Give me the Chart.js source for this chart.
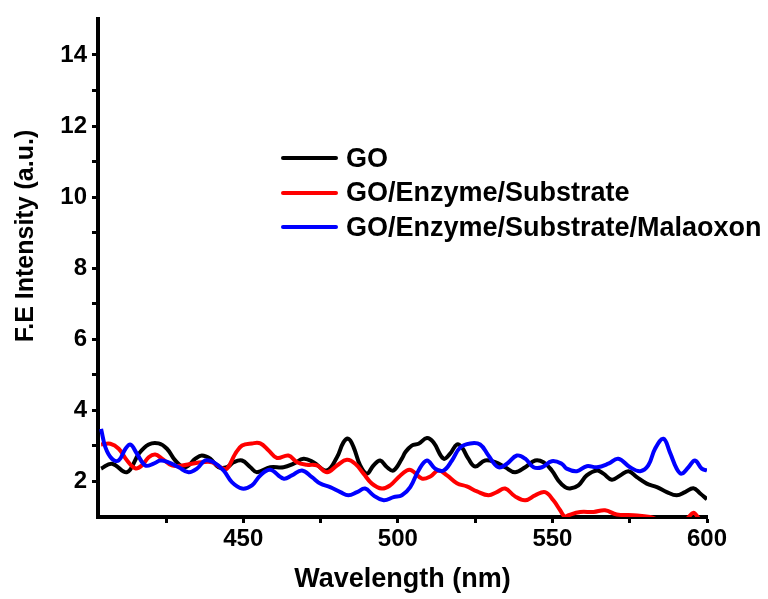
<!DOCTYPE html>
<html lang="en">
<head>
  <meta charset="UTF-8"/>
  <title>F.E Intensity vs Wavelength</title>
  <script src="https://cdn.jsdelivr.net/npm/chart.js"></script>
  <style>
    body { margin: 0; background: #fff; font-family: "Liberation Sans", Arial, sans-serif; }
    .wrap { position: relative; width: 768px; height: 599px; }
    .legend { position: absolute; left: 281px; top: 141px; }
    .legend .row { display: flex; align-items: center; height: 34.5px; }
    .legend .swatch { width: 57px; height: 4px; border-radius: 2px; margin-right: 8px; }
    .legend .txt { font-weight: bold; font-size: 27px; color: #000; white-space: nowrap; }
  </style>
</head>
<body>
  <div class="wrap">
    <canvas id="chart" width="768" height="599"></canvas>
    <div class="legend" id="legend"></div>
  </div>

  <script>
    // values
    const seriesNames = ['GO', 'GO/Enzyme/Substrate', 'GO/Enzyme/Substrate/Malaoxon'];
    const seriesColors = ['#000000', '#ff0000', '#0000ff'];

    const goX = [404, 407.5, 412.4, 416.2, 419.4, 422.6, 425.3, 428, 431.2, 434.5, 436.6, 439.3, 442, 444.7, 446.9, 449.6,
      452.3, 454.4, 458.7, 463, 466.3, 469.5, 472.7, 477, 480.3, 482.4, 484, 485.7, 487.8, 490, 492.1, 494.3, 496.5, 498.6,
      501.3, 502.4, 504.5, 506.7, 509.4, 511.5, 514.8, 516.9, 519.1, 520.7, 522.8, 525, 528.2, 531.5, 534.7, 537.9, 541.2,
      544.4, 547.1, 549.8, 551.9, 554.1, 555.7, 558.4, 561.1, 564.4, 566.5, 569.2, 571.9, 574.6, 577.3, 580.5, 583.8, 587,
      590.2, 592.9, 595.6, 597.8, 600];
    const goY = [2.36, 2.5, 2.26, 2.78, 3.04, 3.07, 2.92, 2.59, 2.4, 2.64, 2.73, 2.64, 2.4, 2.4, 2.54, 2.59,
      2.4, 2.26, 2.4, 2.4, 2.5, 2.64, 2.54, 2.31, 2.68, 3.1, 3.2, 2.96, 2.45, 2.22, 2.45, 2.59, 2.4, 2.31,
      2.64, 2.82, 3.01, 3.06, 3.22, 3.1, 2.64, 2.78, 3.04, 2.96, 2.64, 2.42, 2.59, 2.54, 2.4, 2.26, 2.4,
      2.59, 2.54, 2.31, 2.03, 1.84, 1.8, 1.89, 2.17, 2.31, 2.22, 2.05, 2.17, 2.29, 2.12, 1.94, 1.84, 1.7,
      1.61, 1.7, 1.81, 1.66, 1.5];

    const enzX = [404, 407, 409.7, 412.4, 415.1, 417.2, 419.4, 421.5, 423.7, 426.9, 430.2, 433.4, 436.6, 439.9, 442.6, 444.7,
      447.4, 449.6, 452.8, 455.5, 458.2, 460.9, 464.6, 467.4, 470.6, 473.8, 477.1, 480.3, 483.5, 486.2, 488.9, 491.6, 494.8,
      497.5, 500.2, 502.9, 504.5, 507.8, 510.5, 513.1, 515.9, 519.1, 522.3, 525.6, 529.3, 532, 534.7, 537.9, 541.2, 544.4,
      547.6, 550.3, 552.5, 554.1, 555.2, 559, 563.3, 567, 570.8, 576.2, 581.6, 585, 590, 593.5, 595.6, 597.5, 600];
    const enzY = [3.04, 3.06, 2.92, 2.59, 2.37, 2.45, 2.68, 2.76, 2.64, 2.45, 2.45, 2.5, 2.54, 2.54, 2.4, 2.36,
      2.78, 3.01, 3.07, 3.07, 2.87, 2.66, 2.73, 2.54, 2.47, 2.45, 2.26, 2.45, 2.61, 2.5, 2.22, 1.94, 1.8,
      1.89, 2.12, 2.31, 2.31, 2.08, 2.14, 2.31, 2.17, 1.95, 1.86, 1.72, 1.61, 1.7, 1.8, 1.58, 1.47, 1.61,
      1.7, 1.47, 1.19, 1.0, 1.05, 1.14, 1.14, 1.19, 1.07, 1.05, 1.0, 0.9, 0.85, 0.95, 1.12, 0.95, 0.8];

    const malX = [404, 405.4, 407.5, 409.7, 411.9, 413.5, 415.6, 418.3, 421, 423.2, 425.8, 429.1, 432.3, 435, 437.7, 440.4,
      443.6, 446.3, 449.6, 452.8, 455.5, 458.7, 463, 465.7, 469, 472.2, 474.9, 478.1, 481.4, 484, 486.8, 489.4, 492.1,
      495.4, 498.6, 501.3, 504, 506.7, 509.4, 512.1, 514.8, 517.5, 520.2, 523.4, 526.6, 529.3, 532.5, 535.3, 538.5, 541.2,
      543.9, 546.6, 549.8, 553, 554.6, 557.9, 561.1, 564.4, 568.1, 571.3, 575.1, 578.4, 581, 583.2, 585.9, 588, 590.2,
      591.8, 594, 596.1, 598.3, 600];
    const malY = [3.48, 2.96, 2.64, 2.59, 2.92, 3.04, 2.78, 2.45, 2.5, 2.59, 2.54, 2.4, 2.26, 2.36, 2.59, 2.54,
      2.31, 1.98, 1.8, 1.89, 2.17, 2.33, 2.08, 2.17, 2.31, 2.12, 1.94, 1.84, 1.7, 1.61, 1.7, 1.8, 1.61,
      1.47, 1.56, 1.61, 1.84, 2.31, 2.59, 2.36, 2.31, 2.59, 2.96, 3.07, 3.04, 2.73, 2.4, 2.5, 2.73, 2.64,
      2.4, 2.4, 2.57, 2.5, 2.36, 2.29, 2.43, 2.4, 2.5, 2.64, 2.4, 2.29, 2.45, 2.92, 3.2, 2.82, 2.36,
      2.22, 2.4, 2.59, 2.36, 2.31];

    const xTicks = [425, 450, 475, 500, 525, 550, 575, 600];
    const yTicks = [2, 3, 4, 5, 6, 7, 8, 9, 10, 11, 12, 13, 14];
    const yTitle = 'F.E Intensity (a.u.)';

    const FONT = '"Liberation Sans", Arial, sans-serif';
    const pairs = (xs, ys) => xs.map((x, i) => ({ x: x, y: ys[i] }));
    const allX = [goX, enzX, malX];
    const allY = [goY, enzY, malY];

    const datasets = seriesNames.map((name, i) => ({
      label: name,
      data: pairs(allX[i], allY[i]),
      borderColor: seriesColors[i],
      borderWidth: 4,
      pointRadius: 0,
      tension: 0.4,
      fill: false,
      order: 2 - i
    }));

    // html legend
    const legend = document.getElementById('legend');
    seriesNames.forEach((name, i) => {
      const row = document.createElement('div');
      row.className = 'row';
      row.innerHTML = '<span class="swatch" style="background:' + seriesColors[i] + '"></span><span class="txt">' + name + '</span>';
      legend.appendChild(row);
    });

    // y title sits a bit above the middle of the axis in the original, so draw it by hand
    const yTitlePlugin = {
      id: 'yTitle',
      afterDraw(chart) {
        const ctx = chart.ctx;
        ctx.save();
        ctx.translate(26, 236);
        ctx.rotate(-Math.PI / 2);
        ctx.font = 'bold 25px ' + FONT;
        ctx.fillStyle = '#000';
        ctx.textAlign = 'center';
        ctx.textBaseline = 'middle';
        ctx.fillText(yTitle, 0, 0);
        ctx.restore();
      }
    };

    new Chart(document.getElementById('chart'), {
      type: 'line',
      data: { datasets },
      plugins: [yTitlePlugin],
      options: {
        responsive: false,
        animation: false,
        events: [],
        layout: { padding: { left: 0, top: 16, right: 61, bottom: 0 } },
        plugins: { legend: { display: false }, tooltip: { enabled: false } },
        scales: {
          x: {
            type: 'linear',
            min: 403,
            max: 600,
            afterBuildTicks: s => { s.ticks = xTicks.map(v => ({ value: v })); },
            afterFit: s => { s.height = 82; },
            border: { display: true, width: 4, color: '#000' },
            grid: { drawOnChartArea: false, drawTicks: true, tickLength: 6, tickWidth: 3, tickColor: '#000' },
            ticks: {
              color: '#000', padding: 2, maxRotation: 0, autoSkip: false,
              font: { family: FONT, size: 24, weight: 'bold' },
              callback: v => (v % 50 === 0 ? String(v) : '')
            },
            title: {
              display: true, text: 'Wavelength (nm)', color: '#000',
              font: { family: FONT, size: 27, weight: 'bold' },
              padding: { top: 0, bottom: 3 }
            }
          },
          y: {
            min: 1,
            max: 15,
            afterBuildTicks: s => { s.ticks = yTicks.map(v => ({ value: v })); },
            afterFit: s => { s.width = 98; },
            border: { display: true, width: 4, color: '#000' },
            grid: { drawOnChartArea: false, drawTicks: true, tickLength: 6, tickWidth: 3, tickColor: '#000' },
            ticks: {
              color: '#000', padding: 5, autoSkip: false,
              font: { family: FONT, size: 24, weight: 'bold' },
              callback: v => (v % 2 === 0 ? String(v) : '')
            },
            title: { display: false }
          }
        }
      }
    });
  </script>
</body>
</html>
